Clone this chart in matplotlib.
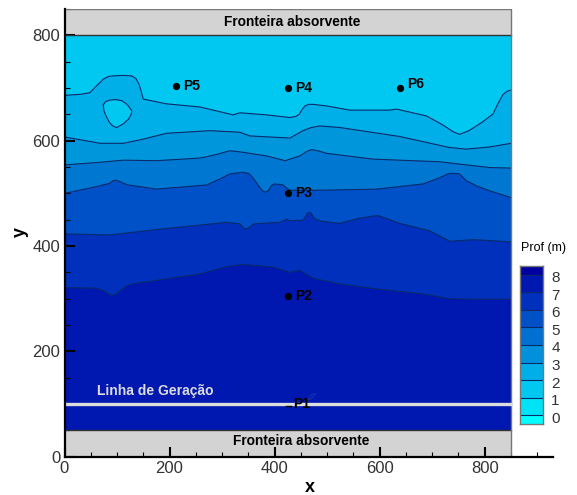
import numpy as np
import matplotlib
matplotlib.use("Agg")
import matplotlib.pyplot as plt
from matplotlib.ticker import MultipleLocator
from matplotlib.transforms import ScaledTranslation

plt.rcParams['font.family'] = ['Liberation Sans', 'DejaVu Sans']

# isolines, top one first
line1_x = [0, 30, 48, 60, 74, 84, 93, 110, 128, 136, 142, 146, 150, 194, 258, 321, 334, 385, 429, 440, 447, 452, 458, 465, 473, 499, 543, 619, 632, 689, 720, 740, 752, 770, 795, 816, 825, 835, 843, 850]
line1_y = [686, 688, 691, 703, 717, 722, 723, 724, 723, 718, 707, 694, 679, 670, 664, 649, 653, 649, 644, 646, 650, 659, 666, 669, 669, 666, 658, 658, 660, 647, 630, 617, 612, 619, 635, 651, 670, 688, 694, 696]
line2_x = [0, 23, 68, 112, 150, 194, 277, 334, 353, 429, 454, 470, 486, 524, 638, 733, 765, 809, 850]
line2_y = [607, 603, 595, 595, 603, 614, 619, 616, 609, 605, 619, 625, 628, 625, 608, 587, 584, 588, 595]
line3_x = [0, 68, 112, 175, 258, 290, 315, 340, 385, 420, 429, 448, 460, 470, 482, 499, 587, 714, 809, 850]
line3_y = [554, 559, 563, 562, 567, 574, 581, 578, 571, 562, 565, 571, 579, 583, 581, 576, 565, 560, 549, 548]
line4_x = [0, 48, 86, 92, 99, 108, 121, 175, 271, 295, 315, 340, 350, 356, 362, 369, 376, 382, 388, 394, 400, 416, 423, 429, 492, 594, 683, 715, 730, 740, 752, 758, 765, 785, 809, 850]
line4_y = [500, 510, 519, 524, 525, 521, 516, 508, 516, 527, 537, 540, 538, 533, 525, 515, 506, 502, 505, 515, 518, 516, 510, 506, 506, 508, 518, 530, 537, 538, 537, 531, 524, 514, 505, 492]
line5_x = [0, 86, 182, 309, 334, 339, 344, 350, 360, 410, 423, 429, 454, 459, 463, 466, 470, 473, 477, 490, 524, 562, 597, 638, 695, 720, 733, 778, 850]
line5_y = [423, 421, 432, 445, 442, 436, 432, 434, 442, 445, 451, 448, 449, 456, 463, 464, 462, 456, 451, 447, 443, 453, 458, 443, 429, 416, 409, 412, 408]
line6_x = [0, 61, 75, 85, 90, 99, 108, 121, 140, 163, 258, 309, 340, 397, 429, 448, 462, 476, 524, 607, 683, 733, 778, 850]
line6_y = [321, 320, 315, 308, 306, 309, 317, 326, 330, 333, 347, 361, 365, 360, 350, 354, 345, 338, 328, 317, 309, 300, 299, 299]
isolines = [(line1_x, line1_y), (line2_x, line2_y), (line3_x, line3_y),
            (line4_x, line4_y), (line5_x, line5_y), (line6_x, line6_y)]

island_x = [74, 78, 86, 98, 109, 120, 128, 127, 122, 112, 99, 92, 86, 80, 75, 74]
island_y = [668, 674, 677, 678, 676, 668, 657, 650, 641, 632, 625, 628, 634, 645, 657, 668]

band_colors = ['#00c8f0', '#00aee8', '#0096dc', '#0078d2', '#0050c8', '#0030bc', '#0018b0']

point_x = [425, 425, 425, 212, 638]
point_y = [305, 500, 700, 703, 700]
point_names = ['P2', 'P3', 'P4', 'P5', 'P6']

cbar_levels = [0, 1, 2, 3, 4, 5, 6, 7, 8]
cbar_colors = ['#00ffff', '#00e2f5', '#00c8f0', '#00aee8', '#0090dc', '#0070d2', '#0050c8', '#0030bc', '#0018b0', '#0000a0']

fig = plt.figure(figsize=(5.77, 4.95), dpi=100)
ax = fig.add_axes([64.5/577, 38.3/495, 488.5/577, 447.7/495])
ax.set_xlim(0, 930)
ax.set_ylim(0, 850)

# base rectangle of the domain
ax.fill([0, 850, 850, 0], [50, 50, 800, 800], color=band_colors[0], lw=0, zorder=1)

# each band is painted from its isoline down to the bottom boundary
for i, (lx, ly) in enumerate(isolines):
    ax.fill(lx + [850, 0], ly + [50, 50], color=band_colors[i+1], lw=0, zorder=1+i*0.01)
    ax.plot(lx, ly, color='#0a2a6a', lw=0.8, zorder=2)

ax.fill(island_x, island_y, color=band_colors[0], lw=0, zorder=1.5)
ax.plot(island_x, island_y, color='#0a2a6a', lw=0.8, zorder=2)

# absorbing boundaries
ax.fill([0, 850, 850, 0], [800, 800, 850, 850], color='#d3d3d3', lw=0, zorder=2)
ax.fill([0, 850, 850, 0], [0, 0, 50, 50], color='#d3d3d3', lw=0, zorder=2)
ax.plot([0, 850], [800, 800], color='#333333', lw=1, zorder=3)
ax.plot([0, 850], [50, 50], color='#333333', lw=1, zorder=3)
ax.plot([0, 850, 850], [850, 850, 0], color='#777777', lw=1, zorder=3)
ax.text(433, 825, 'Fronteira absorvente', fontsize=9.9, fontweight='bold', ha='center', va='center', zorder=5)
ax.text(451, 30, 'Fronteira absorvente', fontsize=9.9, fontweight='bold', ha='center', va='center', zorder=5)

# generation line
ax.plot([0, 850], [100, 100], color='#dcdcdc', lw=2.4, zorder=3)
ax.text(62, 124, 'Linha de Geração', color='#dcdcdc', fontsize=10, fontweight='bold', va='center', zorder=5)
ax.plot([462, 470, 478, 470, 462], [108, 118, 120, 110, 108], color='#1030b0', lw=0.8, zorder=3)
ax.plot([422, 432], [96, 96], color='black', lw=1, zorder=4)
ax.text(435, 100, 'P1', fontsize=10, fontweight='bold', va='center', zorder=5)

ax.plot(point_x, point_y, 'o', color='black', ms=4.2, zorder=5)
for px, py, name in zip(point_x, point_y, point_names):
    dy = 3 if name == 'P6' else 0
    ax.annotate(name, (px, py), xytext=(5.5, dy), textcoords='offset points', fontsize=10,
                fontweight='bold', va='center', zorder=5)

for s in ['top', 'right']:
    ax.spines[s].set_visible(False)
for s in ['left', 'bottom']:
    ax.spines[s].set_linewidth(1.6)
    ax.spines[s].set_zorder(6)

ax.xaxis.set_major_locator(MultipleLocator(200))
ax.xaxis.set_minor_locator(MultipleLocator(50))
ax.yaxis.set_major_locator(MultipleLocator(200))
ax.yaxis.set_minor_locator(MultipleLocator(50))
ax.tick_params(which='major', direction='in', length=7, width=1.5, labelsize=12, pad=3)
ax.tick_params(which='minor', direction='in', length=3.5, width=0.8)
for t in ax.get_xticklabels() + ax.get_yticklabels():
    t.set_color('#333333')
ax.set_axisbelow(False)

fig.text(310/577, 1-488/495, 'x', fontsize=13, fontweight='bold', ha='center', va='center')
fig.text(20/577, 1-232/495, 'y', fontsize=13, fontweight='bold', rotation=90, ha='center', va='center')

# colour bar
cax = fig.add_axes([520/577, 1-424/495, 23/577, 158/495])
edges = [-0.5] + cbar_levels + [8.5]
for i, c in enumerate(cbar_colors):
    cax.barh(edges[i], 1, height=edges[i+1]-edges[i], align='edge', color=c, lw=0)
for lev in cbar_levels:
    cax.axhline(lev, color='#0a2a6a', lw=0.8)
cax.set_xlim(0, 1)
cax.set_ylim(-0.5, 8.5)
cax.set_xticks([])
cax.set_yticks(cbar_levels)
cax.yaxis.tick_right()
cax.tick_params(length=0, labelsize=11, pad=6, labelcolor='#333333')
# labels sit a little below their lines
shift = ScaledTranslation(0, -2/100, fig.dpi_scale_trans)
for t in cax.get_yticklabels():
    t.set_transform(t.get_transform() + shift)
for s in cax.spines.values():
    s.set_color('#777777')
    s.set_linewidth(1)
fig.text(521/577, 1-248/495, 'Prof (m)', fontsize=9, ha='left', va='center')

fig.savefig('out.png', dpi=100)
